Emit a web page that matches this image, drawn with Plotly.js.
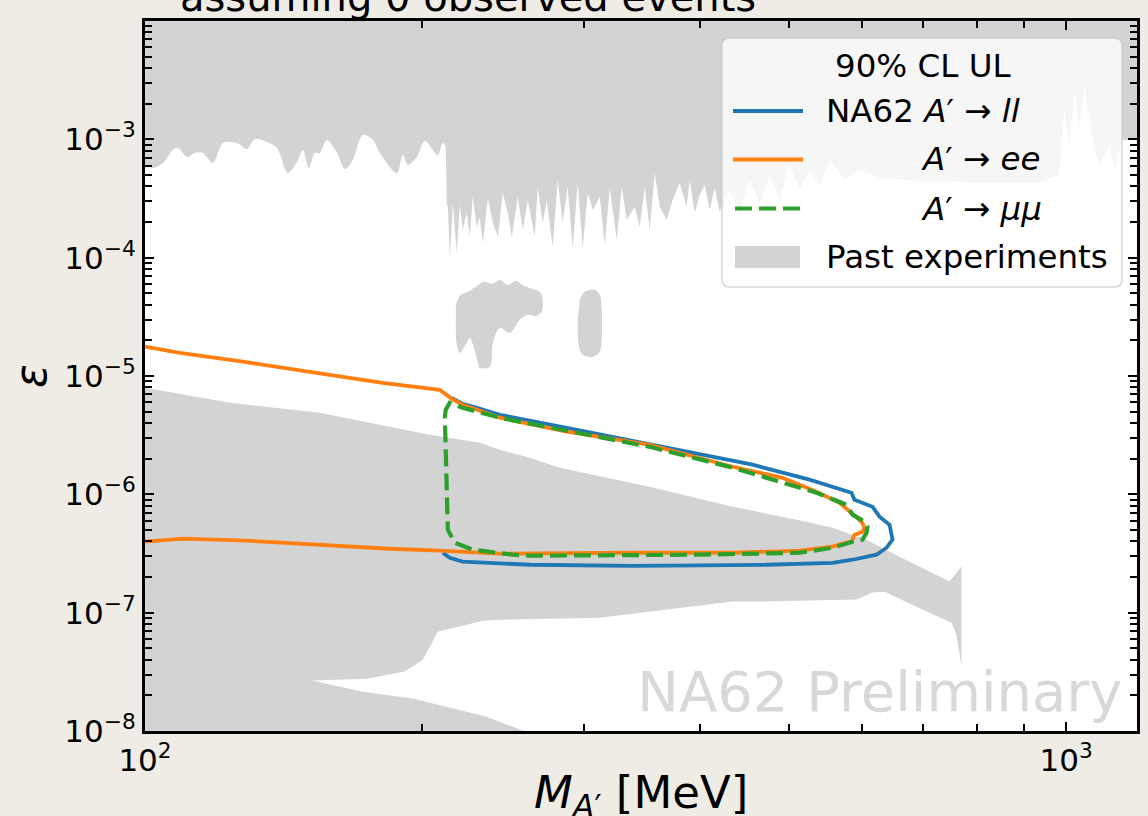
<!DOCTYPE html>
<html>
<head>
<meta charset="utf-8">
<script src="https://cdn.plot.ly/plotly-3.0.1.min.js"></script>
<style>
  html, body { margin: 0; padding: 0; background: #efece5; }
  #chart { width: 1148px; height: 816px; }
</style>
</head>
<body>
<div id="chart"></div>
<script>
// ---------------------------------------------------------------------------
// NA62 dark-photon search: 90% CL upper-limit contours, mass in MeV vs epsilon
// ---------------------------------------------------------------------------

// A' -> ll (combined)
const llMass = [215.3, 221.3, 229.2, 242.8, 287.0, 355.7, 400.2, 456.7, 526.6, 567.5, 584.8, 589.2,
  616.4, 627.3, 643.2, 648.0, 638.4, 622.6, 586.3, 557.7, 473.0, 338.4, 261.7, 221.3, 214.2, 210.5];
const llEps = [6.54e-6, 5.82e-6, 5.39e-6, 4.70e-6, 3.65e-6, 2.62e-6, 2.16e-6, 1.78e-6, 1.33e-6, 1.094e-6, 1.031e-6, 9.00e-7,
  7.86e-7, 6.47e-7, 5.54e-7, 4.14e-7, 3.54e-7, 3.09e-7, 2.80e-7, 2.64e-7, 2.54e-7, 2.49e-7, 2.54e-7, 2.70e-7, 2.91e-7, 3.21e-7];

// A' -> ee
const eeMass = [100, 109.1, 127.7, 139.1, 164.0, 181.2, 208.9, 215.3, 221.3, 242.8, 287.0, 353.2, 434.5,
  492.2, 535.9, 567.5, 586.3, 592.2, 599.7, 604.2, 601.2, 589.2, 584.8, 571.8, 557.7, 513.6, 434.5,
  338.4, 242.8, 208.9, 184.4, 129.0, 110.0, 100];
const eeEps = [1.77e-5, 1.57e-5, 1.32e-5, 1.20e-5, 9.84e-6, 8.76e-6, 7.64e-6, 6.42e-6, 5.71e-6, 4.44e-6, 3.38e-6, 2.62e-6, 1.71e-6,
  1.38e-6, 1.052e-6, 8.49e-7, 6.73e-7, 6.35e-7, 5.87e-7, 5.22e-7, 4.83e-7, 4.56e-7, 3.98e-7, 3.83e-7, 3.61e-7, 3.34e-7, 3.21e-7,
  3.21e-7, 3.15e-7, 3.34e-7, 3.47e-7, 4.06e-7, 4.22e-7, 3.98e-7];

// A' -> mumu
const mumuMass = [211.6, 212.1, 214.2, 221.3, 242.8, 353.2, 434.5, 535.9, 577.6, 586.3, 604.2, 608.7, 607.2,
  601.2, 586.3, 557.7, 513.6, 400.2, 261.7, 250.7, 226.9, 216.9, 213.2, 212.7, 211.6, 211.6];
const mumuEps = [4.52e-6, 5.18e-6, 5.94e-6, 5.39e-6, 4.44e-6, 2.52e-6, 1.68e-6, 1.031e-6, 8.17e-7, 6.73e-7, 5.87e-7, 5.32e-7, 4.74e-7,
  4.14e-7, 3.98e-7, 3.54e-7, 3.21e-7, 3.09e-7, 3.03e-7, 3.09e-7, 3.40e-7, 3.90e-7, 5.02e-7, 9.0e-7, 2.38e-6, 4.52e-6];

// Regions already excluded by past experiments
// upper band, below the di-muon threshold (smooth envelope)
const pastUpperLeftMass = [90, 100, 102.0, 104.6, 107.2, 108.6, 111.1, 113.3, 115.6, 118.5, 121.5, 125.8, 129.0,
  131.6, 135.6, 139.1, 142.9, 146.2, 148.4, 150.6, 152.9, 154.8, 157.6, 161.6, 164.8, 168.1, 172.4, 176.8, 179.9,
  187.7, 190.5, 192.9, 197.3, 201.3, 207.9, 210.5, 213.5, 215, 215, 90];
const pastUpperLeftEps = [6.08e-4, 6.08e-4, 5.73e-4, 6.32e-4, 8.14e-4, 8.46e-4, 7.10e-4, 7.68e-4, 7.68e-4, 6.32e-4,
  9.32e-4, 9.32e-4, 8.30e-4, 1.008e-3, 9.51e-4, 8.46e-4, 5.20e-4, 6.44e-4, 8.14e-4, 5.73e-4, 7.68e-4, 7.68e-4,
  9.88e-4, 7.68e-4, 5.62e-4, 6.70e-4, 1.089e-3, 9.88e-4, 7.68e-4, 5.20e-4, 7.38e-4, 6.08e-4, 7.10e-4, 9.69e-4,
  7.38e-4, 9.32e-4, 8.14e-4, 8.14e-4, 1, 1];

// upper band, above the di-muon threshold (fine-grained scan)
const pastUpperRightMass = [212.1, 212.7, 213.2, 214.3, 215.9, 218.0, 219.7, 221.3, 223.5, 225.2,
  226.9, 229.2, 230.9, 232.7, 235.6, 238.6, 241.6, 244.6, 247.7, 250.2, 253.9, 257.1, 260.4, 264.9, 266.9, 270.3,
  273.0, 277.1, 280.6, 284.1, 287.7, 291.3, 295.0, 298.7, 302.5, 306.3, 311.7, 315.6, 319.6, 325.2, 329.3, 333.4,
  340.2, 344.4, 348.8, 353.1, 357.6, 362.1, 368.5, 374.0, 380.6, 387.3, 390.3, 395.2, 400.1, 405.2, 410.3, 415.4,
  420.6, 431.3, 442.2, 453.4, 464.8, 476.6, 488.7, 501.0, 513.7, 526.7, 540.0, 553.7, 574.8, 596.7, 627.3, 659.5,
  747.1, 846.5, 935.5, 983.4, 995.8, 1008.3, 1021.0, 1033.8, 1046.8, 1060.0, 1073.3, 1086.8, 1114.3, 1128.3,
  1151.1, 1300, 1300, 212.1];
const pastUpperRightEps = [8.14e-4, 2.79e-4, 2.69e-4, 1.02e-4, 2.90e-4, 1.10e-4, 2.79e-4, 1.72e-4, 2.39e-4, 1.50e-4,
  3.26e-4, 1.82e-4, 2.21e-4, 1.33e-4, 3.20e-4, 1.97e-4, 1.50e-4, 3.53e-4, 2.39e-4, 1.50e-4, 3.26e-4, 1.72e-4,
  3.08e-4, 1.50e-4, 3.96e-4, 1.97e-4, 3.08e-4, 1.23e-4, 4.54e-4, 1.97e-4, 3.96e-4, 1.21e-4, 4.28e-4, 1.21e-4,
  3.53e-4, 2.53e-4, 3.26e-4, 1.28e-4, 3.89e-4, 1.41e-4, 3.96e-4, 2.09e-4, 2.69e-4, 1.82e-4, 3.96e-4, 1.72e-4,
  5.20e-4, 2.69e-4, 2.09e-4, 3.08e-4, 4.28e-4, 2.69e-4, 4.54e-4, 2.39e-4, 3.39e-4, 4.12e-4, 2.53e-4, 3.89e-4,
  2.44e-4, 3.74e-4, 2.30e-4, 4.54e-4, 2.79e-4, 5.00e-4, 3.08e-4, 6.08e-4, 3.74e-4, 5.51e-4, 4.12e-4, 6.70e-4,
  4.54e-4, 5.51e-4, 4.72e-4, 4.54e-4, 4.37e-4, 4.28e-4, 4.28e-4, 5.00e-4, 1.771e-3, 8.14e-4, 2.614e-3, 1.200e-3,
  2.881e-3, 1.458e-3, 8.14e-4, 6.08e-4, 8.97e-4, 5.51e-4, 9.88e-4, 9.88e-4, 1, 1];

const pastIslandAMass = [217.5, 219.7, 224.1, 228.6, 233.2, 238.0, 242.8, 247.7, 252.7, 257.8, 263.0, 268.3, 270.3,
  269.6, 265.6, 260.4, 255.2, 248.9, 242.8, 238.6, 236.8, 230.9, 229.8, 225.2, 223.5, 219.7, 218.0, 217.5];
const pastIslandAEps = [3.99e-5, 4.76e-5, 5.14e-5, 5.67e-5, 6.25e-5, 6.01e-5, 6.49e-5, 5.89e-5, 6.37e-5, 5.78e-5,
  5.45e-5, 5.14e-5, 4.40e-5, 3.48e-5, 3.22e-5, 3.29e-5, 2.98e-5, 2.32e-5, 2.55e-5, 1.91e-5, 1.20e-5, 1.17e-5,
  1.32e-5, 2.10e-5, 1.91e-5, 1.57e-5, 1.83e-5, 2.98e-5];

const pastIslandBMass = [296.5, 300.2, 307.8, 311.7, 313.2, 313.2, 311.7, 306.3, 298.7, 295.7, 295.0];
const pastIslandBEps = [4.40e-5, 5.14e-5, 5.35e-5, 4.85e-5, 3.62e-5, 2.02e-5, 1.60e-5, 1.45e-5, 1.51e-5, 1.83e-5, 2.98e-5];

const pastLowerMass = [90, 100, 123.7, 154.8, 203.8, 230.9, 242.8, 261.7, 282.0, 353.1, 434.5, 522.8, 557.7, 607.2,
  659.5, 747.1, 769.9, 769.9, 760.3, 750.9, 687.9, 635.2, 616.4, 592.2, 464.8, 434.5, 311.7, 242.8, 232.7, 207.9,
  200.3, 191.5, 174.1, 151.8, 172.4, 195.3, 235.0, 257.1, 323, 90];
const pastLowerEps = [7.95e-6, 7.95e-6, 5.94e-6, 4.89e-6, 3.19e-6, 2.73e-6, 2.38e-6, 2.04e-6, 1.68e-6, 1.159e-6,
  7.86e-7, 5.87e-7, 5.22e-7, 4.14e-7, 2.97e-7, 1.83e-7, 2.45e-7, 3.50e-8, 6.52e-8, 8.23e-8, 1.12e-7, 1.50e-7,
  1.48e-7, 1.29e-7, 1.24e-7, 1.24e-7, 9.07e-8, 8.73e-8, 8.56e-8, 6.91e-8, 4.01e-8, 3.18e-8, 2.77e-8, 2.67e-8,
  2.15e-8, 1.88e-8, 1.32e-8, 1.008e-8, 5e-9, 5e-9];

// Axis ticks
const xTickVals = [100, 1000];
const xTickText = ['10<sup>2</sup>', '10<sup>3</sup>'];
const yTickVals = [1e-8, 1e-7, 1e-6, 1e-5, 1e-4, 1e-3, 1e-2];
const yTickText = ['10<sup>\u22128</sup>', '10<sup>\u22127</sup>', '10<sup>\u22126</sup>', '10<sup>\u22125</sup>',
  '10<sup>\u22124</sup>', '10<sup>\u22123</sup>', '10<sup>\u22122</sup>'];

// Axis titles
const xTitle = '<i>M</i><sub><i>A</i>\u2032</sub> [MeV]';
const yTitle = '<i>\u03b5</i>';

// Legend labels
const legendTitle = '90% CL UL';
const legendLabels = ['NA62 <i>A</i>\u2032 \u2192 <i>ll</i>', '<i>A</i>\u2032 \u2192 <i>ee</i>',
  '<i>A</i>\u2032 \u2192 <i>\u03bc\u03bc</i>', 'Past experiments'];

// ---------------------------------------------------------------------------
const COLORS = { ll: '#1f77b4', ee: '#ff7f0e', mumu: '#2ca02c', past: '#d3d3d3' };
const FONT = 'DejaVu Sans, sans-serif';
const W = 1148, H = 816;
const MARGIN = { l: 145, r: 11, t: 21, b: 85 };
const LEGEND_FONT = 32.5;

// pixel -> paper helpers for the hand-laid legend box and labels
const px = v => (v - MARGIN.l) / (W - MARGIN.l - MARGIN.r);
const py = v => (H - MARGIN.b - v) / (H - MARGIN.t - MARGIN.b);

function minorLogTicks(lo, hi) {
  const out = [];
  for (let e = lo; e < hi; e++) for (let d = 2; d <= 9; d++) out.push(d * Math.pow(10, e));
  return out;
}

function pastTrace(x, y, smooth) {
  const t = { x, y, type: 'scatter', mode: 'none', fill: 'toself', fillcolor: COLORS.past,
    hoverinfo: 'skip', showlegend: false };
  if (smooth) t.line = { shape: 'spline', smoothing: 0.9 };
  return t;
}

const traces = [
  pastTrace(pastUpperLeftMass, pastUpperLeftEps, true),
  pastTrace(pastUpperRightMass, pastUpperRightEps, false),
  pastTrace(pastIslandAMass, pastIslandAEps, true),
  pastTrace(pastIslandBMass, pastIslandBEps, true),
  pastTrace(pastLowerMass, pastLowerEps, false),
  { x: llMass, y: llEps, type: 'scatter', mode: 'lines', name: 'NA62 ll',
    line: { color: COLORS.ll, width: 3.8 }, showlegend: false },
  { x: eeMass, y: eeEps, type: 'scatter', mode: 'lines', name: 'ee',
    line: { color: COLORS.ee, width: 3.8 }, showlegend: false },
  { x: mumuMass, y: mumuEps, type: 'scatter', mode: 'lines', name: 'mumu',
    line: { color: COLORS.mumu, width: 4.2, dash: '17px,7px' }, showlegend: false }
];

function roundedRect(x0, y0, x1, y1, r) {
  const X = v => px(v).toFixed(5), Y = v => py(v).toFixed(5);
  return `M${X(x0 + r)},${Y(y0)} L${X(x1 - r)},${Y(y0)} Q${X(x1)},${Y(y0)} ${X(x1)},${Y(y0 + r)} ` +
    `L${X(x1)},${Y(y1 - r)} Q${X(x1)},${Y(y1)} ${X(x1 - r)},${Y(y1)} L${X(x0 + r)},${Y(y1)} ` +
    `Q${X(x0)},${Y(y1)} ${X(x0)},${Y(y1 - r)} L${X(x0)},${Y(y0 + r)} Q${X(x0)},${Y(y0)} ${X(x0 + r)},${Y(y0)} Z`;
}

const rowY = [111, 159.5, 208.5, 257];
const shapes = [
  { type: 'path', xref: 'paper', yref: 'paper', path: roundedRect(722, 38, 1122, 287, 8),
    fillcolor: 'rgba(255,255,255,0.8)', line: { color: 'rgba(204,204,204,0.8)', width: 1.5 } },
  { type: 'line', xref: 'paper', yref: 'paper', x0: px(733), x1: px(803), y0: py(rowY[0]), y1: py(rowY[0]),
    line: { color: COLORS.ll, width: 4 } },
  { type: 'line', xref: 'paper', yref: 'paper', x0: px(733), x1: px(803), y0: py(rowY[1]), y1: py(rowY[1]),
    line: { color: COLORS.ee, width: 4 } },
  { type: 'line', xref: 'paper', yref: 'paper', x0: px(735), x1: px(803), y0: py(rowY[2]), y1: py(rowY[2]),
    line: { color: COLORS.mumu, width: 4.2, dash: '17px,7px' } },
  { type: 'rect', xref: 'paper', yref: 'paper', x0: px(735), x1: px(800), y0: py(268), y1: py(246),
    fillcolor: COLORS.past, line: { width: 0 } }
];

function label(text, x, y, xanchor, size, color, yanchor) {
  return { text, x: px(x), y: py(y), xref: 'paper', yref: 'paper', xanchor, yanchor: yanchor || 'middle',
    showarrow: false, font: { family: FONT, size, color: color || '#000' } };
}

const annotations = [
  label('assuming 0 observed events', 178, -3, 'left', 40),
  label(xTitle, 641, 764, 'center', 45, '#000', 'top'),
  label('NA62 Preliminary', 1125, 691, 'right', 56, '#d8d8d8'),
  label(legendTitle, 923, 66, 'center', LEGEND_FONT),
  label(legendLabels[0], 824, rowY[0], 'left', LEGEND_FONT),
  label(legendLabels[1], 919, rowY[1], 'left', LEGEND_FONT),
  label(legendLabels[2], 919, rowY[2], 'left', LEGEND_FONT),
  label(legendLabels[3], 824, rowY[3], 'left', LEGEND_FONT)
];

const axisCommon = {
  type: 'log', showgrid: false, zeroline: false,
  showline: true, linecolor: '#000', linewidth: 3, mirror: 'ticks',
  ticks: 'inside', ticklen: 9, tickwidth: 2.2, tickcolor: '#000',
  tickfont: { family: FONT, size: 31, color: '#000' },
  automargin: false
};

const layout = {
  width: W, height: H,
  paper_bgcolor: '#efece5', plot_bgcolor: '#ffffff',
  margin: Object.assign({ pad: 0 }, MARGIN),
  showlegend: false,
  font: { family: FONT, size: 31, color: '#000' },
  xaxis: Object.assign({}, axisCommon, {
    range: [2, 3.077], tickmode: 'array', tickvals: xTickVals, ticktext: xTickText,
    minor: { tickmode: 'array', tickvals: minorLogTicks(2, 4), ticks: 'inside', ticklen: 7, tickwidth: 2, tickcolor: '#000', showgrid: false }
  }),
  yaxis: Object.assign({}, axisCommon, {
    range: [-8, -2], tickmode: 'array', tickvals: yTickVals, ticktext: yTickText,
    minor: { tickmode: 'array', tickvals: minorLogTicks(-8, -2), ticks: 'inside', ticklen: 7, tickwidth: 2, tickcolor: '#000', showgrid: false },
    title: { text: yTitle, font: { family: FONT, size: 44 }, standoff: 4 }
  }),
  shapes, annotations
};

Plotly.newPlot('chart', traces, layout, { staticPlot: true, displayModeBar: false });
</script>
</body>
</html>
